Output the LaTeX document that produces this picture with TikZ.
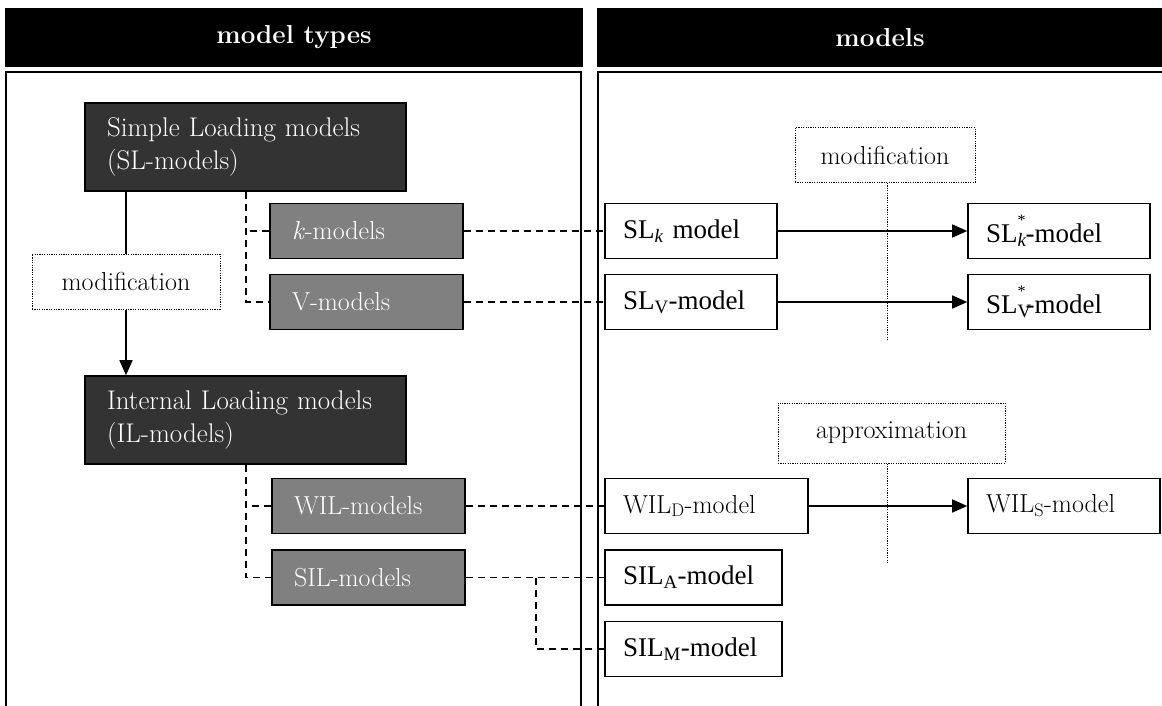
\documentclass[tikz,border=0pt]{standalone}
\usepackage{fontspec}
\newfontfamily\tnr{Liberation Serif}
\usetikzlibrary{arrows.meta}
\definecolor{typedark}{HTML}{333333}
\definecolor{typegray}{HTML}{808080}
\newcommand{\starmark}{\raisebox{0.62em}{\fontsize{16}{16}\selectfont *}}
\begin{document}
\begin{tikzpicture}[x=1pt,y=-1pt,
  hdr/.style={fill=black, text=white, inner sep=0pt, font=\bfseries\fontsize{26}{32}\selectfont},
  panel/.style={draw=black, line width=2pt},
  typebox/.style={draw=black, line width=1.6pt, fill=typedark, text=white,
    inner ysep=0pt, inner xsep=22pt, text width=277pt, minimum height=88pt,
    align=left, font=\fontsize{27}{33}\selectfont},
  subbox/.style={draw=black, line width=1.6pt, fill=typegray, text=white,
    inner ysep=0pt, inner xsep=22pt, text width=149pt, minimum height=55pt,
    align=left, font=\fontsize{26}{31}\selectfont},
  modelbox/.style={draw=black, line width=1.6pt, fill=white, inner ysep=0pt,
    inner xsep=18pt, minimum height=55pt, align=left,
    font=\tnr\fontsize{27}{32}\selectfont},
  gbox/.style={modelbox, font=\fontsize{26}{31}\selectfont},
  notebox/.style={draw=black, line width=1pt, dash pattern=on 1.2pt off 1.2pt,
    inner sep=0pt, align=center, font=\fontsize{26}{31}\selectfont},
  dashline/.style={line width=1.6pt, dash pattern=on 7pt off 5pt},
  dotline/.style={line width=1pt, dash pattern=on 1.2pt off 1.2pt},
  solidline/.style={line width=1.6pt},
  arrowline/.style={line width=1.6pt, -{Triangle[length=15pt,width=13pt]}}
]
\useasboundingbox (0,0) rectangle (1162,705);

% column headers
\node[hdr, minimum width=578pt, minimum height=59pt] (htypes) at (294,37.5) {model types};
\node[hdr, minimum width=566pt, minimum height=59pt] (hmodels) at (880,37.5) {models};

% column frames (open at the bottom)
\draw[panel] (6,712) -- (6,72) -- (581,72) -- (581,712);
\draw[panel] (598,712) -- (598,72) -- (1172,72);

% model types
\node[typebox] (sl) at (245.5,147) {Simple Loading models\\(SL-models)};
\node[typebox] (il) at (245.5,420) {Internal Loading models\\(IL-models)};
\node[notebox, minimum width=188pt, minimum height=55pt] (modl) at (126,281.5) {modification};

\node[subbox] (km) at (366.5,231) {\textit{k}-models};
\node[subbox] (vm) at (366.5,302) {V-models};
\node[subbox] (wm) at (368.5,506) {WIL-models};
\node[subbox] (sm) at (368.5,577.5) {SIL-models};

% models
\node[modelbox, text width=136pt] (slk) at (691,231) {SL\textsubscript{\textit{k}} model};
\node[modelbox, text width=136pt] (slv) at (691,302) {SL\textsubscript{V}-model};
\node[modelbox, text width=146pt] (slks) at (1059,231) {SL\rlap{\textsubscript{\textit{k}}}\starmark-model};
\node[modelbox, text width=146pt] (slvs) at (1059,302) {SL\rlap{\textsubscript{V}}\starmark-model};
\node[gbox, text width=167pt] (wild) at (706.5,506) {WIL\textsubscript{D}-model};
\node[gbox, text width=156pt] (wils) at (1064,506) {WIL\textsubscript{S}-model};
\node[modelbox, text width=141pt] (sila) at (693.5,577.5) {SIL\textsubscript{A}-model};
\node[modelbox, text width=141pt] (silm) at (693.5,649) {SIL\textsubscript{M}-model};

\node[notebox, minimum width=180pt, minimum height=55pt] (modr) at (885,155) {modification};
\node[notebox, minimum width=227pt, minimum height=60pt] (appr) at (891.5,433) {approximation};

% modification: SL-models to IL-models
\draw[solidline] (sl.south -| modl.north) -- (modl.north);
\draw[arrowline] (modl.south) -- (il.north -| modl.south);

% sub-types of the loading models
\coordinate (trunk) at (246,0);
\draw[dashline] (sl.south -| trunk) |- (vm.west);
\draw[dashline] (km.west) -- (km.west -| trunk);
\draw[dashline] (il.south -| trunk) |- (sm.west);
\draw[dashline] (wm.west) -- (wm.west -| trunk);

% sub-types to models
\draw[dashline] (km.east) -- (slk.west);
\draw[dashline] (vm.east) -- (slv.west);
\draw[dashline] (wm.east) -- (wild.west);
\draw[dashline] (sm.east) -- (sila.west);
\coordinate (silfork) at (536,0);
\draw[dashline] (sm.east -| silfork) |- (silm.west);

% derived models
\draw[arrowline] (slk.east) -- (slks.west);
\draw[arrowline] (slv.east) -- (slvs.west);
\draw[arrowline] (wild.east) -- (wils.west);

% dotted markers across the arrows
\coordinate (modtail) at (887,340);
\coordinate (aptail) at (887,564);
\draw[dotline] (modr.south -| modtail) -- (modtail);
\draw[dotline] (appr.south -| aptail) -- (aptail);
\end{tikzpicture}
\end{document}
